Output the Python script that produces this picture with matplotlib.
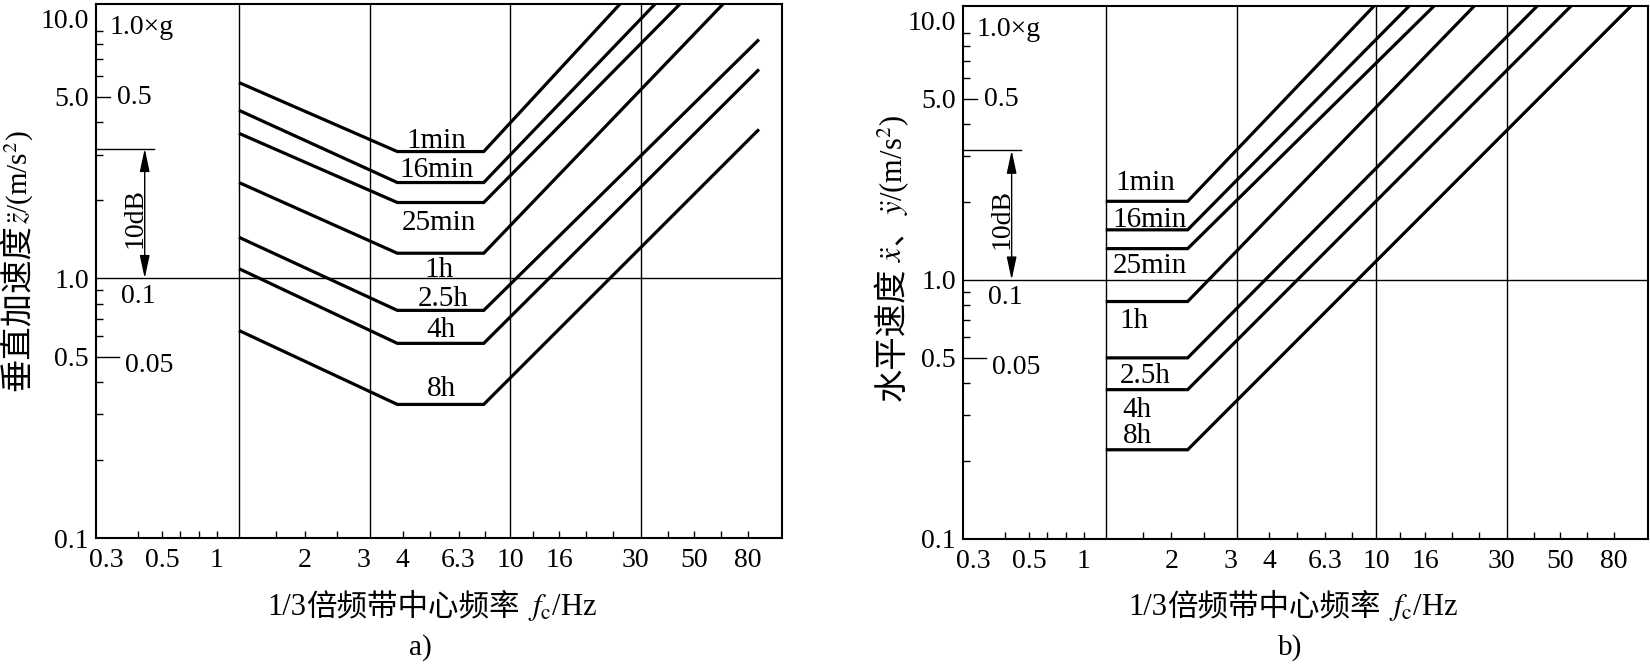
import numpy as np
import matplotlib
matplotlib.use('Agg')
import matplotlib.pyplot as plt
from matplotlib.ticker import FixedLocator, FixedFormatter, NullFormatter
from matplotlib.transforms import offset_copy

plt.rcParams['font.family'] = ['Liberation Serif', 'Noto Sans CJK SC']
plt.rcParams['mathtext.fontset'] = 'stix'
plt.rcParams['font.size'] = 20

# the frequency axis of the original is hand drawn, not a clean log axis:
# label value -> distance (px) from the left frame
scale_f = [0.2724, 0.3, 0.5, 1, 2, 3, 4, 6.3, 10, 16, 30, 50, 80, 107.5]
scale_px = [0, 10.5, 66, 121, 208.5, 267.5, 306.5, 362.5, 414, 463, 539, 598, 652, 686]

xtick_vals = [0.3, 0.5, 1, 2, 3, 4, 6.3, 10, 16, 30, 50, 80]
xtick_text = ['0.3', '0.5', '1', '2', '3', '4', '6.3', '10', '16', '30', '50', '80']
third_oct = [0.4, 0.5, 0.63, 0.8, 1, 1.6, 2, 2.5, 4, 5, 6.3, 8, 12.5, 16, 20, 25, 40, 50, 63, 80]
ytick_vals = [0.1, 0.5, 1, 5, 10]
ytick_text = ['0.1', '0.5', '1.0', '5.0', '10.0']
yminor = [0.2, 0.3, 0.4, 0.5, 0.6, 0.7, 0.8, 0.9, 2, 3, 4, 5, 6, 7, 8, 9]
g_text = ['1.0×g', '0.5', '0.1', '0.05']

grid_f = [1.19, 3.15, 10, 31.5]
f0 = grid_f[0]   # all curves start on the first vertical line

durations = ['1min', '16min', '25min', '1h', '2.5h', '4h', '8h']

# a) vertical: level at f0, flat level between the knees, end of each line
a_knee = [3.85, 7.9]
a_start = [5.68, 4.44, 3.62, 2.34, 1.44, 1.09, 0.63]
a_flat = [3.08, 2.34, 1.96, 1.25, 0.753, 0.562, 0.327]
a_end_f = [26.5, 35.7, 44.3, 64.4, 88, 88, 88]
a_end_acc = [11.4, 11.4, 11.4, 11.4, 8.32, 6.38, 3.75]

# b) horizontal: flat from f0 to the knee, then up to the top frame
b_knee = 2.24
b_flat = [2.01, 1.56, 1.32, 0.825, 0.50, 0.377, 0.221]
b_end_f = [9.79, 13.7, 17.2, 24.0, 41.0, 55.0, 92.8]
b_end_acc = [11.4, 11.4, 11.4, 11.4, 11.4, 11.4, 11.4]

# piecewise log interpolation through the drawn labels
lf = np.log10(scale_f)
px = np.array(scale_px, float)
sl = (px[1] - px[0]) / (lf[1] - lf[0])
sr = (px[-1] - px[-2]) / (lf[-1] - lf[-2])
lf_ext = np.r_[lf[0] - 3, lf, lf[-1] + 3]
px_ext = np.r_[px[0] - 3 * sl, px, px[-1] + 3 * sr]


def fwd(f):
    return np.interp(np.log10(np.clip(f, 1e-6, None)), lf_ext, px_ext)


def inv(p):
    return 10 ** np.interp(p, px_ext, lf_ext)


fig = plt.figure(figsize=(16.5, 6.65), dpi=100)
ax_a = fig.add_axes([96 / 1650, 1 - 538 / 665, 686 / 1650, 534 / 665])
ax_b = fig.add_axes([963 / 1650, 1 - 539 / 665, 685 / 1650, 533 / 665])


def setup(ax):
    ax.set_xscale('function', functions=(fwd, inv))
    ax.set_yscale('log')
    ax.set_xlim(scale_f[0], scale_f[-1])
    ax.set_ylim(0.1, 11.4)
    ax.xaxis.set_major_locator(FixedLocator(xtick_vals))
    ax.xaxis.set_major_formatter(FixedFormatter(xtick_text))
    ax.xaxis.set_minor_locator(FixedLocator(third_oct))
    ax.xaxis.set_minor_formatter(NullFormatter())
    ax.xaxis.remove_overlapping_locs = False
    ax.yaxis.set_major_locator(FixedLocator(ytick_vals))
    ax.yaxis.set_major_formatter(FixedFormatter(ytick_text))
    ax.yaxis.set_minor_locator(FixedLocator(yminor))
    ax.yaxis.set_minor_formatter(NullFormatter())
    ax.tick_params(which='both', direction='in', top=False, right=False, width=1)
    ax.tick_params(which='major', length=0, labelsize=20)
    ax.tick_params(which='minor', length=5)
    ax.tick_params(axis='x', which='major', pad=7)
    ax.tick_params(axis='y', which='major', pad=5)
    for s in ax.spines.values():
        s.set_linewidth(1.5)
    for f in grid_f:
        ax.axvline(f, color='k', lw=1.0)
    ax.axhline(1.0, color='k', lw=1.0)

    yt = ax.get_yaxis_transform()
    # g scale marks at 0.5 g and 0.05 g
    ax.plot([0, 0.021], [5, 5], transform=yt, color='k', lw=1)
    ax.plot([0, 0.033], [0.5, 0.5], transform=yt, color='k', lw=1)
    for s, (x, y) in zip(g_text, [(0.020, 0.944), (0.031, 0.812), (0.037, 0.44), (0.043, 0.31)]):
        ax.text(x, y, s, transform=ax.transAxes, ha='left', va='baseline')

    # 10 dB bracket
    ax.plot([0, 0.084], [3.16, 3.16], transform=yt, color='k', lw=1)
    ax.annotate('', xy=(0.071, 1.0), xytext=(0.071, 3.16), xycoords=yt, textcoords=yt,
                arrowprops=dict(arrowstyle='<|-|>,head_length=0.7,head_width=0.15',
                                color='k', lw=1, shrinkA=0, shrinkB=0))
    ax.text(0.067, 0.60, '10dB', rotation=90, rotation_mode='anchor',
            ha='center', va='baseline', transform=ax.transAxes)


setup(ax_a)
setup(ax_b)

kw = dict(color='k', lw=2.3, solid_joinstyle='miter', solid_capstyle='butt')
for i in range(len(durations)):
    ax_a.plot([f0, a_knee[0], a_knee[1], a_end_f[i]],
              [a_start[i], a_flat[i], a_flat[i], a_end_acc[i]], **kw)
    ax_b.plot([f0, b_knee, b_end_f[i]],
              [b_flat[i], b_flat[i], b_end_acc[i]], **kw)

a_lab = [(0.496, 0.730), (0.497, 0.676), (0.500, 0.577), (0.500, 0.489),
         (0.506, 0.434), (0.503, 0.376), (0.503, 0.266)]
b_lab = [(0.222, 0.655), (0.218, 0.585), (0.219, 0.499), (0.229, 0.396),
         (0.229, 0.293), (0.232, 0.229), (0.234, 0.180)]
for s, (x, y) in zip(durations, a_lab):
    ax_a.text(x, y, s, transform=ax_a.transAxes, ha='center', va='baseline', fontsize=21)
for s, (x, y) in zip(durations, b_lab):
    ax_b.text(x, y, s, transform=ax_b.transAxes, ha='left', va='baseline', fontsize=21)


def text_run(x, y, parts, rotation=0):
    """Write pieces one after another (CJK and mathtext can't share one string).
    parts: (text, size) or (None, gap_px). Centred on x (or y when rotated)."""
    r = fig.canvas.get_renderer()
    widths = []
    for s, size in parts:
        if s is None:
            widths.append(size)
            continue
        t = fig.text(0, 0, s, fontsize=size)
        widths.append(t.get_window_extent(r).width)
        t.remove()
    off = -sum(widths) / 2
    for (s, size), w in zip(parts, widths):
        if s is not None:
            dx, dy = (off, 0) if rotation == 0 else (0, off)
            tr = offset_copy(fig.transFigure, fig=fig, x=dx, y=dy, units='dots')
            fig.text(x, y, s, fontsize=size, rotation=rotation, rotation_mode='anchor',
                     ha='left', va='baseline', transform=tr)
        off += w


xlab = [('1/3', 22), ('倍频带中心频率', 22), (None, 8), (r'$f_{\mathrm{c}}$/Hz', 22)]
text_run(432 / 1650, 1 - 615 / 665, xlab)
text_run(1293 / 1650, 1 - 615 / 665, xlab)

text_run(28 / 1650, 1 - 261 / 665,
         [('垂直加速度', 24), (r'$\ddot{z}$/(m/s$^2$)', 21)], rotation=90)
text_run(902 / 1650, 1 - 258 / 665,
         [('水平速度', 24), (None, 6), (r'$\ddot{x}$', 22), ('、', 22),
          (r'$\ddot{y}$/(m/s$^2$)', 22)], rotation=90)

fig.text(420 / 1650, 1 - 655 / 665, 'a)', ha='center', va='baseline', fontsize=21)
fig.text(1290 / 1650, 1 - 655 / 665, 'b)', ha='center', va='baseline', fontsize=21)

fig.savefig('out.png', dpi=100, facecolor='white')
